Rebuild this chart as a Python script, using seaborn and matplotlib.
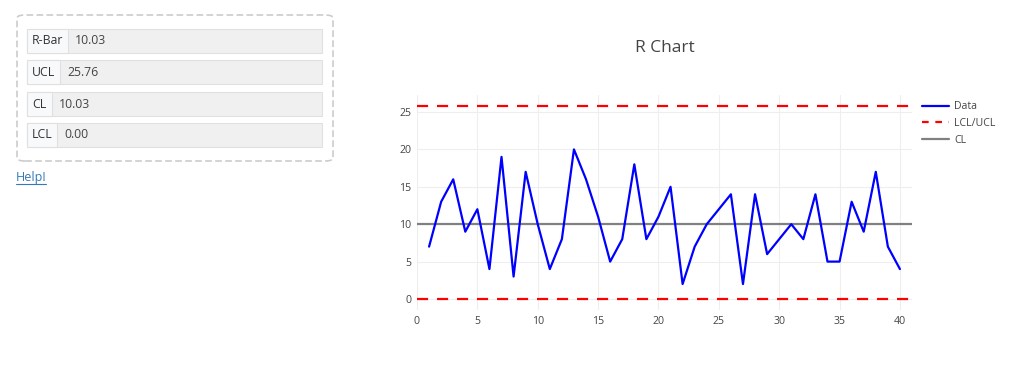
import matplotlib
matplotlib.use("Agg")
import matplotlib.pyplot as plt
import seaborn as sns
import pandas as pd
from matplotlib.patches import FancyBboxPatch, Rectangle
from matplotlib.lines import Line2D

# ---- data ----
samples = list(range(1, 41))
ranges = [7, 13, 16, 9, 12, 4, 19, 3, 17, 10,
          4, 8, 20, 16, 11, 5, 8, 18, 8, 11,
          15, 2, 7, 10, 12, 14, 2, 14, 6, 8,
          10, 8, 14, 5, 5, 13, 9, 17, 7, 4]
rbar = 10.03
ucl = 25.76
cl = 10.03
lcl = 0.00
stat_labels = ["R-Bar", "UCL", "CL", "LCL"]
stat_values = [rbar, ucl, cl, lcl]
legend_labels = ["Data", "LCL/UCL", "CL"]
title = "R Chart"
xticks = [0, 5, 10, 15, 20, 25, 30, 35, 40]
yticks = [0, 5, 10, 15, 20, 25]

sns.set_theme(style="white")
plt.rcParams['font.family'] = ['Open Sans', 'DejaVu Sans']

W, H = 1024, 390
fig = plt.figure(figsize=(W / 100, H / 100), dpi=100)


def fx(px):
    return px / W


def fy(py):
    return 1 - py / H


# ---- left panel ----
box = FancyBboxPatch((fx(17), fy(161)), fx(333) - fx(17), fy(15) - fy(161),
                     boxstyle="round,pad=0,rounding_size=0.008",
                     transform=fig.transFigure, fill=False,
                     edgecolor="#cccccc", linestyle=(0, (4, 2)), linewidth=1.2)
fig.add_artist(box)

row_centers = [41, 72, 104, 135]
label_widths = [41, 33, 25, 30]
for lab, val, cy, lw in zip(stat_labels, stat_values, row_centers, label_widths):
    top, bot = cy - 12, cy + 12
    full = Rectangle((fx(27), fy(bot)), fx(322) - fx(27), fy(top) - fy(bot),
                     transform=fig.transFigure, facecolor="#f0f0f0",
                     edgecolor="#e0e0e0", linewidth=0.8)
    fig.add_artist(full)
    lab_rect = Rectangle((fx(27), fy(bot)), fx(27 + lw) - fx(27), fy(top) - fy(bot),
                         transform=fig.transFigure, facecolor="#f8f9fa",
                         edgecolor="#e0e0e0", linewidth=0.8)
    fig.add_artist(lab_rect)
    fig.text(fx(27 + lw / 2), fy(cy), lab, ha="center", va="center",
             fontsize=8.8, color="#333333")
    fig.text(fx(27 + lw + 7), fy(cy), f"{val:.2f}", ha="left", va="center",
             fontsize=8.8, color="#444444")

fig.text(fx(16), fy(178), "Help!", ha="left", va="center", fontsize=9,
         color="#337ab7")
fig.add_artist(Line2D([fx(16), fx(46)], [fy(184), fy(184)],
                      transform=fig.transFigure, color="#337ab7", linewidth=0.8))

# ---- chart ----
x0, x1 = 417, 912
xmin, xmax = 0, 41
# y: 0 at 299px, 25 at 112px
ppu = (299 - 112) / 25
ymin = -(310 - 299) / ppu
ymax = (299 - 95) / ppu
ax = fig.add_axes([fx(x0), fy(310), fx(x1) - fx(x0), fy(95) - fy(310)])

df = pd.DataFrame({"sample": samples, "range": ranges})
ax.axhline(ucl, color="#ff0000", linestyle=(0, (5, 4)), linewidth=1.6, zorder=3)
ax.axhline(lcl, color="#ff0000", linestyle=(0, (5, 4)), linewidth=1.6, zorder=3)
ax.axhline(cl, color="#808080", linewidth=1.6, zorder=3)
sns.lineplot(data=df, x="sample", y="range", ax=ax, color="#0000ff",
             linewidth=1.6, zorder=4, legend=False)

ax.set_xlim(xmin, xmax)
ax.set_ylim(ymin, ymax)
ax.set_xticks(xticks)
ax.set_yticks(yticks)
ax.set_xlabel("")
ax.set_ylabel("")
ax.grid(True, color="#eeeeee", linewidth=0.8)
ax.set_axisbelow(True)
for s in ax.spines.values():
    s.set_visible(False)
ax.tick_params(axis="both", length=0, labelsize=7.6, labelcolor="#444444", pad=4)

fig.text(fx(665), fy(48), title, ha="center", va="center", fontsize=12.5,
         color="#444444")

handles = [Line2D([], [], color="#0000ff", linewidth=1.6),
           Line2D([], [], color="#ff0000", linestyle=(0, (3, 3)), linewidth=1.6),
           Line2D([], [], color="#808080", linewidth=1.6)]
fig.legend(handles, legend_labels, loc="upper left",
           bbox_to_anchor=(fx(918), fy(97)), frameon=False, fontsize=7.6,
           handlelength=2.5, handletextpad=0.5, labelspacing=0.55,
           labelcolor="#444444", borderaxespad=0)

fig.savefig("out.png", dpi=100)
